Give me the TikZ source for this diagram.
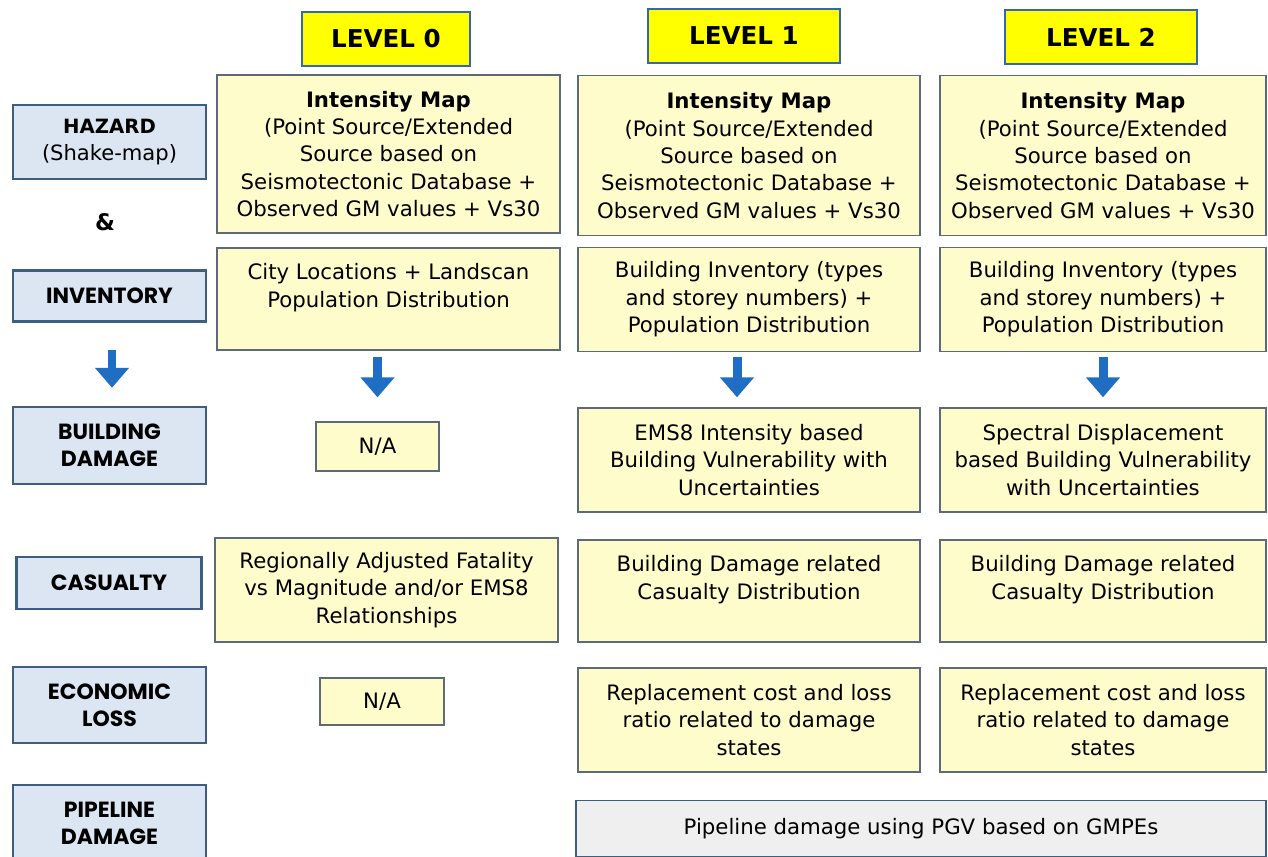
\documentclass[tikz,border=0pt]{standalone}
\usepackage{fontspec}
\setmainfont{DejaVu Sans}
\newfontfamily\catfont{Poppins}
\usetikzlibrary{arrows.meta,positioning}
\definecolor{lvlfill}{HTML}{FFFF00}
\definecolor{lvlline}{HTML}{3566AE}
\definecolor{boxfill}{HTML}{FFFCCC}
\definecolor{boxline}{HTML}{5D6B78}
\definecolor{catfill}{HTML}{DCE6F2}
\definecolor{catline}{HTML}{3F5D80}
\definecolor{pipefill}{HTML}{EFEFEF}
\definecolor{arrowblue}{HTML}{1F6EC4}
\begin{document}
\begin{tikzpicture}[x=0.02cm,y=-0.02cm,
  lvl/.style={draw=lvlline,fill=lvlfill,line width=1.6pt,inner sep=0pt,
    minimum height=1.08cm,font=\fontsize{14}{16}\selectfont\bfseries},
  cat/.style={draw=catline,fill=catfill,line width=1.4pt,inner sep=0pt,align=center,
    minimum width=3.86cm,font=\catfont\fontsize{12.5}{15.6}\selectfont\bfseries},
  box/.style={draw=boxline,fill=boxfill,line width=0.8pt,inner sep=0pt,align=center,
    font=\fontsize{12.1}{15.6}\selectfont},
  pipe/.style={box,fill=pipefill,draw=catline},
  down/.style={draw=arrowblue,line width=0.18cm,-{Triangle[width=0.66cm,length=0.4cm]}}]
\useasboundingbox (0,0) rectangle (1268,856);

\node[lvl,minimum width=3.36cm] (lvl_0) at (386,39) {LEVEL 0};
\node[lvl,minimum width=3.84cm] (lvl_1) at (744,36) {LEVEL 1};
\node[lvl,minimum width=3.84cm] (lvl_2) at (1101,37) {LEVEL 2};

\node[cat,minimum height=1.48cm,font=\fontsize{12}{15.4}\selectfont] (hazard) at (109.5,142) {{\fontsize{11.2}{15.4}\selectfont\bfseries HAZARD}\\(Shake-map)};
\node[font=\fontsize{13}{15}\selectfont\bfseries] (amp) at (105,222) {\&};
\node[cat,minimum height=1.02cm] (inv) at (109.5,296) {INVENTORY};
\node[cat,minimum height=1.54cm] (bdmg) at (109.5,445.5) {BUILDING\\DAMAGE};
\node[cat,minimum width=3.7cm,minimum height=1.04cm] (cas) at (109,583) {CASUALTY};
\node[cat,minimum height=1.52cm] (eco) at (109.5,705) {ECONOMIC\\LOSS};
\node[cat,minimum height=1.54cm] (pipe) at (109.5,823.5) {PIPELINE\\DAMAGE};

\node[box,minimum width=6.86cm,minimum height=3.16cm] (int_0) at (388.5,154) {\textbf{Intensity Map}\\(Point Source/Extended\\Source based on\\Seismotectonic Database +\\Observed GM values + Vs30};
\node[box,minimum width=6.84cm,minimum height=3.2cm] (int_1) at (749,155.5) {\textbf{Intensity Map}\\(Point Source/Extended\\Source based on\\Seismotectonic Database +\\Observed GM values + Vs30};
\node[box,minimum width=6.52cm,minimum height=3.2cm] (int_2) at (1103,155.5) {\textbf{Intensity Map}\\(Point Source/Extended\\Source based on\\Seismotectonic Database +\\Observed GM values + Vs30};

\node[box,minimum width=6.86cm,minimum height=2.04cm] (inv_0) at (388.5,299) {City Locations + Landscan\\Population Distribution\\\mbox{}};
\node[box,minimum width=6.84cm,minimum height=2.08cm] (inv_1) at (749,299.5) {Building Inventory (types\\and storey numbers) +\\Population Distribution};
\node[box,minimum width=6.52cm,minimum height=2.08cm] (inv_2) at (1103,299.5) {Building Inventory (types\\and storey numbers) +\\Population Distribution};

\node[box,minimum width=2.46cm,minimum height=0.98cm] (bd_0) at (377.5,446.5) {N/A};
\node[box,minimum width=6.84cm,minimum height=2.08cm] (bd_1) at (749,460) {EMS8 Intensity based\\Building Vulnerability with\\Uncertainties};
\node[box,minimum width=6.52cm,minimum height=2.08cm] (bd_2) at (1103,460) {Spectral Displacement\\based Building Vulnerability\\with Uncertainties};

\node[box,minimum width=6.86cm,minimum height=2.08cm] (cas_0) at (386.5,590) {Regionally Adjusted Fatality\\vs Magnitude and/or EMS8\\Relationships};
\node[box,minimum width=6.84cm,minimum height=2.04cm] (cas_1) at (749,591) {Building Damage related\\Casualty Distribution\\\mbox{}};
\node[box,minimum width=6.52cm,minimum height=2.04cm] (cas_2) at (1103,591) {Building Damage related\\Casualty Distribution\\\mbox{}};

\node[box,minimum width=2.48cm,minimum height=0.94cm] (eco_0) at (382,701.5) {N/A};
\node[box,minimum width=6.84cm,minimum height=2.08cm] (eco_1) at (749,720) {Replacement cost and loss\\ratio related to damage\\states};
\node[box,minimum width=6.52cm,minimum height=2.08cm] (eco_2) at (1103,720) {Replacement cost and loss\\ratio related to damage\\states};

\node[pipe,minimum width=13.8cm,minimum height=1.12cm,anchor=north] (pipe_12) at (921,800) {Pipeline damage using PGV based on GMPEs};

\draw[down,shorten <=0.54cm,shorten >=0.36cm] ([xshift=0.05cm]inv.south) -- ([xshift=0.05cm]bdmg.north);
\draw[down,shorten <=0.12cm,shorten >=0.48cm] (inv_0.south -| bd_0) -- (bd_0.north);
\draw[down,shorten <=0.1cm,shorten >=0.2cm] ([xshift=-0.24cm]inv_1.south) -- ([xshift=-0.24cm]bd_1.north);
\draw[down,shorten <=0.1cm,shorten >=0.2cm] (inv_2.south) -- (bd_2.north);
\end{tikzpicture}
\end{document}
